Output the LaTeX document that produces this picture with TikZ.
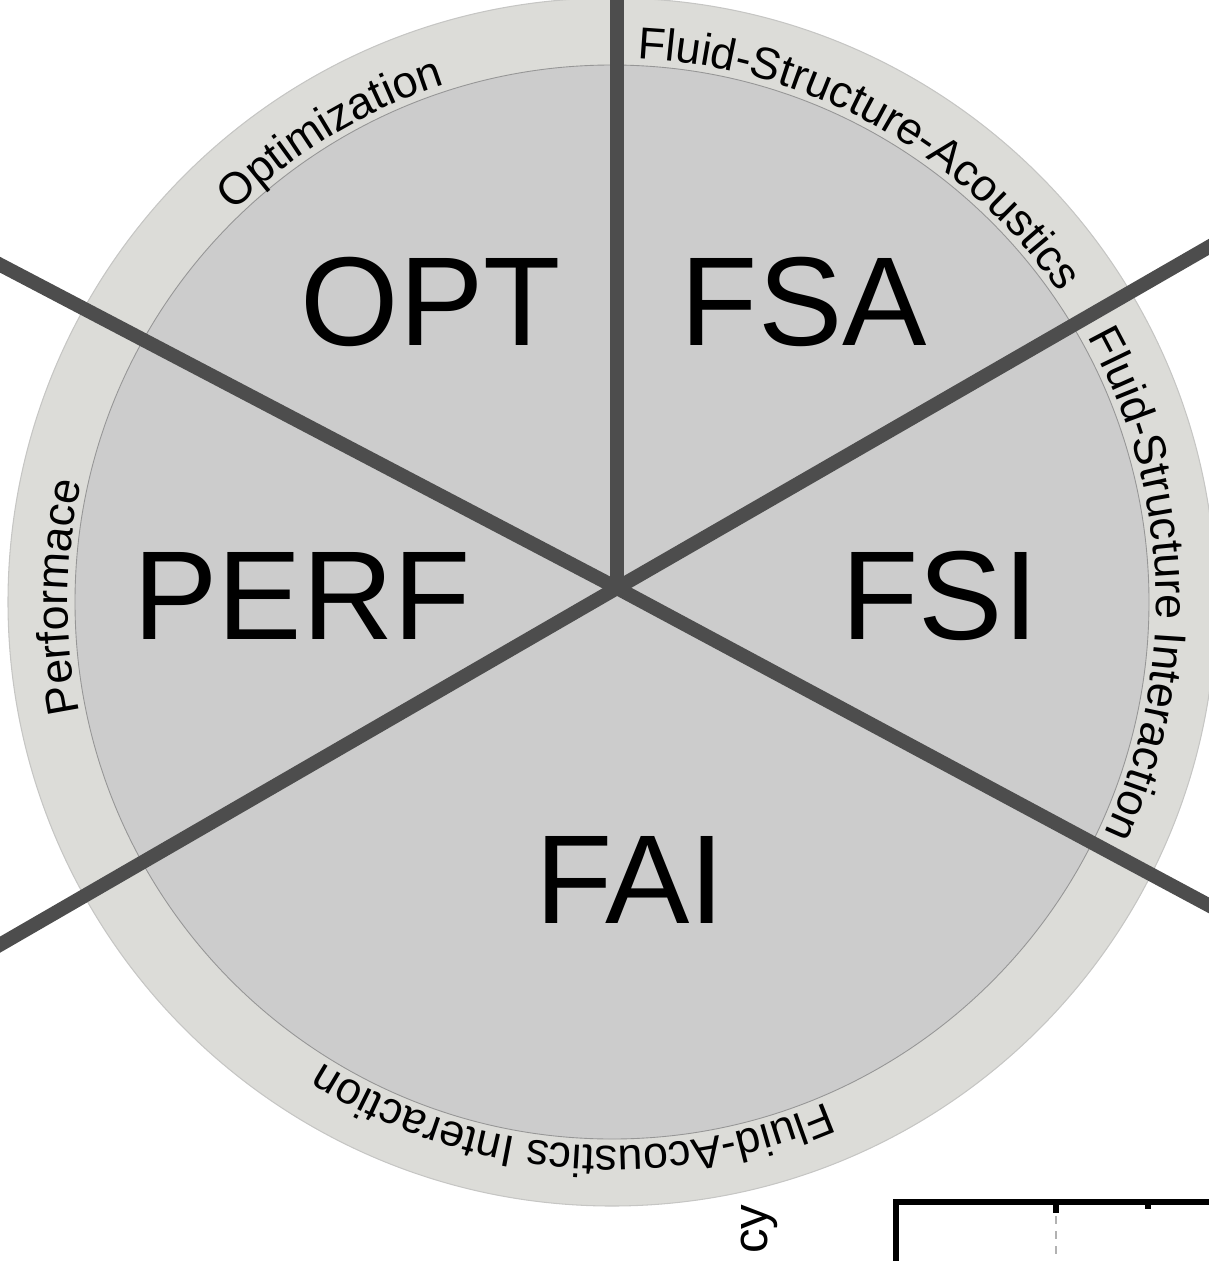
\documentclass[tikz,border=0pt]{standalone}
\usepackage{fontspec}
\setmainfont{Liberation Sans}
\usetikzlibrary{decorations.text}
\definecolor{ringgray}{RGB}{220,220,216}
\definecolor{ringline}{RGB}{198,198,196}
\definecolor{sectorgray}{RGB}{204,204,204}
\definecolor{sectorline}{RGB}{150,150,150}
\definecolor{spokegray}{RGB}{77,77,77}
\newcommand{\ringfont}{\fontsize{25.5}{30}\selectfont}
\newcommand{\areafont}{\fontsize{72}{80}\selectfont}
\tikzset{
  spoke/.style={draw=spokegray, line width=0.28cm},
  area/.style={font=\areafont, inner sep=0pt},
  ringlabel/.style={decorate, decoration={text along path, text={|\ringfont|#1}, text align=center}},
}
\begin{document}
\begin{tikzpicture}[x=0.02cm, y=0.02cm]
  \clip (0,0) rectangle (1209,-1261);
  % 圆心与交点
  \coordinate (C) at (612,-602);
  \coordinate (hub) at (617,-588);
  % 外环
  \draw[fill=ringgray, draw=ringline, line width=0.6pt] (C) circle[radius=604];
  % 内圆
  \draw[fill=sectorgray, draw=sectorline, line width=0.5pt] (C) circle[radius=537];
  % 分隔线的端点
  \coordinate (up) at (617,20);
  \coordinate (ur) at (1240,-229);
  \coordinate (lr) at (1240,-922);
  \coordinate (ll) at (-30,-962);
  \coordinate (ul) at (-30,-249);
  % 分隔线
  \foreach \e in {up,ur,lr,ll,ul}
    \draw[spoke] (hub) -- (\e);
  % 各区域
  \node[area] (opt) at (431,-302) {OPT};
  \node[area] (fsa) at (804,-302) {FSA};
  \node[area] (perf) at (302,-596) {PERF};
  \node[area] (fsi) at (940,-596) {FSI};
  \node[area] (fai) at (630,-880) {FAI};
  % 环上的文字
  \path[ringlabel={Optimization}] (C) ++(156:544) arc[start angle=156, end angle=86, radius=544];
  \path[ringlabel={Fluid-Structure-Acoustics}] (C) ++(101:544) arc[start angle=101, end angle=21, radius=544];
  \path[ringlabel={Fluid-Structure Interaction}] (C) ++(42:544) arc[start angle=42, end angle=-38, radius=544];
  \path[ringlabel={Performace}] (C) ++(215:544) arc[start angle=215, end angle=144, radius=544];
  \path[ringlabel={Fluid-Acoustics Interaction}] (C) ++(305:544) arc[start angle=305, end angle=226, radius=544];
  % 右下角的图框
  \coordinate (frame) at (896,-1202);
  \draw[line width=0.12cm] (1240,-1202) -| (896,-1290);
  \draw[line width=0.12cm] (1056,-1202) -- (1056,-1213);
  \draw[line width=0.12cm] (1148,-1202) -- (1148,-1209);
  \draw[gray!60, line width=0.05cm, dash pattern=on 0.16cm off 0.14cm] (1056,-1216) -- (1056,-1280);
  \node[rotate=90, anchor=base, inner sep=0pt, font=\fontsize{28}{30}\selectfont] (ylab) at (767,-1229) {cy};
\end{tikzpicture}
\end{document}
